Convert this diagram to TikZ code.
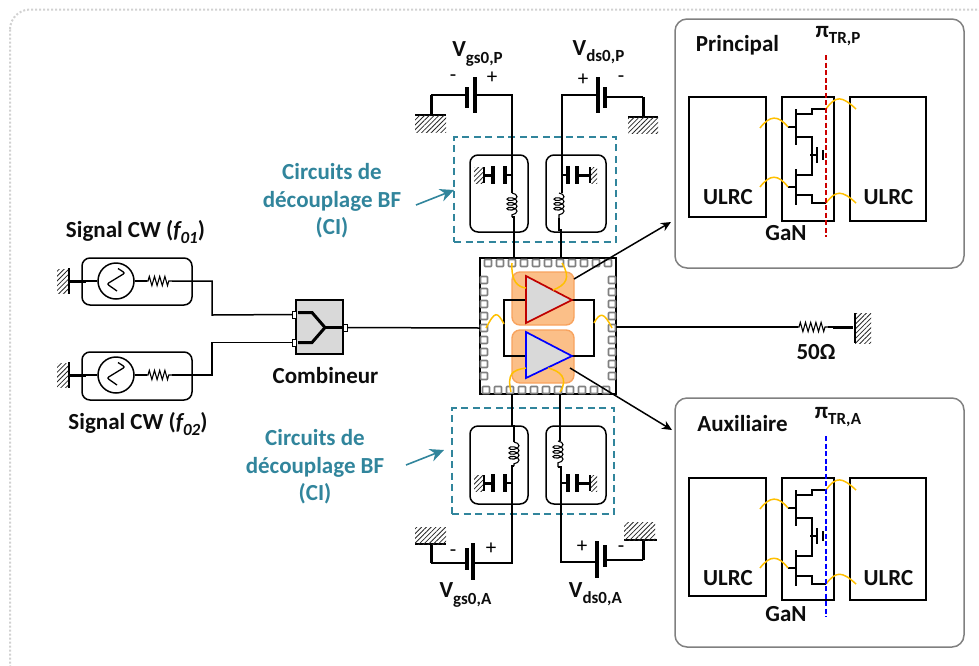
\documentclass[tikz,border=0pt]{standalone}
\usepackage{fontspec}
\setmainfont{Carlito}
\usetikzlibrary{arrows.meta,patterns.meta,decorations.pathmorphing}
\definecolor{teal1}{HTML}{31859C}
\definecolor{yel}{HTML}{FFC000}
\definecolor{orf}{HTML}{FBBF88}
\definecolor{ord}{HTML}{F8A35E}
\definecolor{chipg}{HTML}{D9D9D9}
\definecolor{padg}{HTML}{808080}
\tikzset{
 wire/.style={line width=1.5pt,line join=miter},
 thin wire/.style={line width=1.1pt},
 thick wire/.style={line width=3pt},
 plate/.style={line width=3.2pt},
 bond/.style={yel,line width=1.5pt},
 hatchfill/.style={pattern={Lines[angle=45,distance=3.4pt,line width=0.8pt]},pattern color=black!85},
 rbox/.style={draw=black,line width=1.5pt,rounded corners=8pt},
 panel/.style={draw=padg,line width=1.5pt,rounded corners=12pt,fill=white},
 sq/.style={draw=black,line width=1.6pt},
 pad/.style={draw=padg,line width=1.6pt,fill=white,rounded corners=0.8pt,minimum size=7pt,inner sep=0pt},
 tl/.style={font=\bfseries\fontsize{23}{25}\selectfont,inner sep=0pt,align=center,text=black!95},
 tt/.style={font=\bfseries\fontsize{23}{27.5}\selectfont,inner sep=0pt,align=center,text=teal1},
 sgn/.style={font=\fontsize{21}{21}\selectfont,inner sep=0pt},
 res/.style={decorate,decoration={zigzag,segment length=5.2pt,amplitude=4.6pt,pre length=1pt,post length=1pt},line width=1.1pt},
 coilv/.style={decorate,decoration={coil,aspect=0.5,segment length=4.8pt,amplitude=5pt},line width=1.1pt},
 tealarrow/.style={teal1,line width=1.6pt,-{Stealth[length=14pt,width=13pt]}},
 blackarrow/.style={black,line width=1.5pt,-{Stealth[length=10pt,width=9pt]}},
 dashteal/.style={draw=teal1,line width=1.4pt,dash pattern=on 7pt off 4.5pt},
}
\newcommand\bx[6]{\pgfmathsetmacro\cxx{(#3+#5)/2}\pgfmathsetmacro\cyy{(#4+#6)/2}\pgfmathsetmacro\wdd{#5-#3}\pgfmathsetmacro\htt{#6-#4}\node[#1,minimum width=\wdd pt,minimum height=\htt pt,inner sep=0pt,outer sep=0pt] (#2) at (\cxx,\cyy) {};}
\newcommand\sbs[1]{\raisebox{-0.28em}{\fontsize{17}{17}\selectfont #1}}
\newcommand\hatchr[4]{\fill[hatchfill] (#1,#2) rectangle (#3,#4);}
% source block: name, y box top, y box bottom, y wire
\newcommand\source[4]{
 \bx{rbox}{#1box}{82}{#2}{192}{#3}
 \node[draw,circle,line width=1.5pt,minimum size=36pt,inner sep=0pt,fill=white] (#1osc) at (116,#4) {};
 \coordinate (#1g) at (70,#4);
 \coordinate (#1gm) at (86,#4);
 \coordinate (#1r1) at (147,#4);
 \coordinate (#1r2) at (172,#4);
 \hatchr{57}{#4-12}{69}{#4+12}
 \draw[line width=1.8pt] (69,#4-13) -- (69,#4+13);
 \draw[thick wire] (#1g) -- (#1gm);
 \draw[thin wire] (#1gm) -- (#1osc);
 \draw[thin wire] (#1osc) -- (#1r1);
 \draw[res] (#1r1) -- (#1r2);
 \draw[line width=1.3pt,rounded corners=2pt] (116+2,#4-12.5) -- (116+9,#4-8) -- (116-9,#4+3) -- (116+1,#4+10);
}
% decoupling capacitor, left hatch
\newcommand\capl[2]{
 \hatchr{474}{#2-8}{484}{#2+8}
 \coordinate (#1a) at (484,#2); \coordinate (#1b) at (493,#2);
 \coordinate (#1c) at (505,#2); \coordinate (#1d) at (513,#2);
 \draw[thin wire] (484,#2-8) -- (484,#2+8);
 \draw[thick wire] (#1a) -- (#1b);
 \draw[plate] (493,#2-9) -- (493,#2+9);
 \draw[plate] (505,#2-9) -- (505,#2+9);
 \draw[wire] (#1c) -- (#1d);
}
\newcommand\capr[2]{
 \hatchr{589}{#2-8}{597}{#2+8}
 \coordinate (#1a) at (562,#2); \coordinate (#1b) at (568,#2);
 \coordinate (#1c) at (577,#2); \coordinate (#1d) at (590,#2);
 \draw[plate] (568,#2-9) -- (568,#2+9);
 \draw[plate] (577,#2-9) -- (577,#2+9);
 \draw[wire] (#1a) -- (#1b);
 \draw[thick wire] (#1c) -- (#1d);
 \draw[line width=1.2pt] (590,#2-8) -- (590,#2+8);
}
% measurement panel
\newcommand\ganpanel[8]{% prefix, box top, box bottom, left top, left bottom, dash top, dash bottom, colour
 \begin{scope}[name prefix=#1-]
 \bx{panel}{frame}{675}{#2}{964}{#3}
 \bx{sq}{ul}{689}{#4}{766}{#5}
 \bx{sq}{ur}{850}{#4+2}{926}{#5+2}
 \bx{sq}{gan}{782}{#4+2}{834}{#5+2}
 \begin{scope}[shift={(0,#4-97)},line width=1.3pt]
  \coordinate (g1) at (788,127); \coordinate (c1) at (796,127);
  \coordinate (d1) at (796,114); \coordinate (d2) at (812,114);
  \coordinate (d3) at (812,109); \coordinate (dp) at (826,109);
  \coordinate (s1) at (796,137); \coordinate (s2) at (812,137);
  \coordinate (s3) at (812,175); \coordinate (s4) at (796,175);
  \coordinate (g2) at (788,187); \coordinate (c2) at (796,187);
  \coordinate (s5) at (796,195); \coordinate (s6) at (812,195);
  \coordinate (s7) at (812,203); \coordinate (sp) at (826,203);
  \coordinate (gnd1) at (810,155); \coordinate (gnd2) at (817,155);
  \draw (796,109) -- (796,145);
  \draw (796,169) -- (796,205);
  \draw (g1) -- (c1);
  \draw (d1) -- (d2) -- (d3) -- (dp);
  \draw (s1) -- (s2) -- (s3) -- (s4);
  \draw (g2) -- (c2);
  \draw (s5) -- (s6) -- (s7) -- (sp);
  \draw (gnd1) -- (gnd2);
  \draw (817,147) -- (817,163);
  \draw (823,150) -- (823,160);
  \draw[bond] (760,128) .. controls (770,115) and (778,115) .. (g1);
  \draw[bond] (760,187) .. controls (770,174) and (778,174) .. (g2);
  \draw[bond] (dp) .. controls (836,95) and (842,96) .. (856,109);
  \draw[bond] (sp) .. controls (836,190) and (842,190) .. (856,203);
 \end{scope}
 \coordinate (dt) at (826,#6); \coordinate (db) at (826,#7);
 \draw[#8,line width=1.6pt,dash pattern=on 5pt off 2.5pt] (dt) -- (db);
 \end{scope}
}
\begin{document}
\begin{tikzpicture}[x=1pt,y=-1pt]
\useasboundingbox (0,0) rectangle (979,665);
\draw[black!18,line width=2pt,dash pattern=on 2pt off 2pt,rounded corners=20pt] (10,9.5) rectangle (995,685);

% ---------- sources
\source{sa}{258}{305}{281}
\source{sb}{352}{400}{375}
\node[tl,anchor=center] (labsa) at (135.5,232) {Signal CW (\textit{f\sbs{01}})};
\node[tl,anchor=center] (labsb) at (138,424) {Signal CW (\textit{f\sbs{02}})};

% ---------- combiner
\bx{draw=black,line width=1.4pt,fill=chipg}{comb}{296}{300}{343}{354}
\coordinate (ci1) at (292,315); \coordinate (ci2) at (292,342.5); \coordinate (co) at (347,327.5);
\coordinate (cm) at (325,327.5);
\draw[line width=3pt,line join=miter] (298,312.5) -- (312,312.5) -- (cm) -- (312,342.5) -- (298,342.5);
\draw[line width=3pt] (cm) -- (342,327.5);
\bx{draw=black,line width=0.8pt,fill=white}{pi1}{292.5}{311}{296.5}{318}
\bx{draw=black,line width=0.8pt,fill=white}{pi2}{292.5}{339}{296.5}{346}
\bx{draw=black,line width=0.8pt,fill=white}{po}{343}{324}{347}{331}
\node[tl] (labcomb) at (325.5,376) {Combineur};
\coordinate (j1) at (212,281); \coordinate (j1b) at (212,315);
\coordinate (j2) at (212,375); \coordinate (j2b) at (212,342.5);
\draw[wire] (sar2) -- (j1) -- (j1b) -- (pi1.west);
\draw[wire] (sbr2) -- (j2) -- (j2b) -- (pi2.west);

% ---------- decoupling blocks
\bx{dashteal}{dctop}{454}{137}{616}{242}
\bx{dashteal}{dcbot}{452}{408}{614}{514}
\bx{rbox}{c1}{470}{155}{528}{232}
\bx{rbox}{c2}{546}{155}{606}{232}
\bx{rbox}{c3}{470}{426}{528}{504}
\bx{rbox}{c4}{546}{426}{606}{504}
\node[tt] (labtop) at (332,201) {Circuits de\\découplage BF\\(CI)};
\node[tt] (labbot) at (315,467) {Circuits de\\découplage BF\\(CI)};
\coordinate (att) at (416,205); \coordinate (atb) at (406,465);
\coordinate (ath) at (454,190); \coordinate (abh) at (444,450);
\draw[tealarrow] (att) -- (ath);
\draw[tealarrow] (atb) -- (abh);

% ---------- chip
\bx{sq,line width=1.8pt}{chip}{480}{258}{616}{394}
\foreach \i in {488,500,...,608} {\node[pad] at (\i,263) {};}
\foreach \i in {486,498,...,606} {\node[pad] at (\i,390) {};}
\foreach \i in {280,292,...,376} {\node[pad] at (484,\i) {}; \node[pad] at (612,\i) {};}
\bx{draw=ord,line width=1.4pt,fill=orf,rounded corners=8pt}{ampa}{512}{272}{574}{325}
\bx{draw=ord,line width=1.4pt,fill=orf,rounded corners=8pt}{ampb}{512}{330}{574}{383}
\coordinate (t1a) at (526,276); \coordinate (t1b) at (526,323); \coordinate (t1c) at (572,300);
\coordinate (t2a) at (526,332); \coordinate (t2b) at (526,378); \coordinate (t2c) at (572,356);
\coordinate (t1i) at (526,300); \coordinate (t2i) at (526,356);
\coordinate (la) at (504,300); \coordinate (lb) at (504,356);
\coordinate (ra) at (594,300); \coordinate (rb) at (594,356);
\draw[wire] (t1i) -- (la) -- (lb) -- (t2i);
\draw[wire] (t1c) -- (ra) -- (rb) -- (t2c);
\draw[draw=red!75!black,line width=1.7pt,fill=chipg] (t1a) -- (t1b) -- (t1c) -- cycle;
\draw[draw=blue,line width=1.7pt,fill=chipg] (t2a) -- (t2b) -- (t2c) -- cycle;
\coordinate (bl1) at (486,328); \coordinate (bl2) at (504,324);
\coordinate (br1) at (594,323); \coordinate (br2) at (612,328);
\draw[bond] (bl1) .. controls (495,311) and (497,311) .. (bl2);
\draw[bond] (br1) .. controls (600,312) and (604,312) .. (br2);
\draw[bond] (512,263) .. controls (511,282) and (518,287) .. (526,288);
\draw[bond] (562,263) .. controls (571,278) and (566,285) .. (553,290);
\draw[bond] (511,392) .. controls (507,374) and (512,370) .. (526,368);
\draw[bond] (560,392) .. controls (569,378) and (560,371) .. (548,368);

% ---------- main line
\coordinate (chipin) at (480,328); \coordinate (chipout) at (616,327);
\draw[wire] (po.east) -- (chipin);
\coordinate (r50a) at (798,327); \coordinate (r50b) at (828,327);
\coordinate (r50c) at (833,327); \coordinate (r50d) at (853,327);
\draw[wire] (chipout) -- (r50a);
\draw[res] (r50a) -- (r50b);
\draw[thick wire] (r50c) -- (r50d);
\draw[wire] (r50b) -- (r50c);
\hatchr{855}{313}{871}{343}
\draw[line width=2.2pt] (855,313) -- (855,343);
\node[tl] (lab50) at (816,352) {50Ω};

% ---------- top left bias
\coordinate (b1g) at (431,95); \coordinate (b1gh) at (431,115);
\coordinate (b1a) at (467,95); \coordinate (b1b) at (475,95); \coordinate (b1c) at (512,95);
\coordinate (l1t) at (512,193); \coordinate (l1b) at (512,217); \coordinate (l1e) at (514,217); \coordinate (l1o) at (514,258);
\draw[line width=1.2pt] (415,115) -- (446,115);
\hatchr{415}{115}{446}{132}
\draw[thick wire] (b1g) -- (b1gh);
\draw[wire] (b1g) -- (b1a);
\draw[plate] (467,87) -- (467,108);
\draw[plate] (475,77) -- (475,113);
\draw[wire] (b1b) -- (b1c) -- (l1t);
\draw[coilv] (l1t) -- (l1b);
\draw[wire] (l1b) -- (l1e) -- (l1o);
\capl{k1}{175}

% ---------- top right bias
\coordinate (b2a) at (562,95); \coordinate (b2b) at (598,95); \coordinate (b2c) at (605,97);
\coordinate (b2d) at (643,97); \coordinate (b2e) at (643,117);
\coordinate (l2t) at (562,193); \coordinate (l2tt) at (559,193); \coordinate (l2b) at (559,218); \coordinate (l2e) at (561,230); \coordinate (l2o) at (561,258);
\draw[line width=1.2pt] (628,117) -- (658,117);
\hatchr{628}{117}{658}{133}
\draw[wire] (b2b) -- (b2a) -- (l2t);
\draw[plate] (598,77) -- (598,113);
\draw[plate] (605,87) -- (605,108);
\draw[wire] (b2c) -- (b2d);
\draw[thick wire] (b2d) -- (b2e);
\draw[coilv] (l2tt) -- (l2b);
\draw[wire] (l2b) -- (559,230) -- (l2e) -- (l2o);
\capr{k2}{175}

% ---------- bottom left bias
\coordinate (b3o) at (512,394); \coordinate (b3t) at (514,426); \coordinate (l3t) at (514,442); \coordinate (l3b) at (514,466);
\coordinate (b3c) at (512,466); \coordinate (b3d) at (512,563); \coordinate (b3e) at (473,563);
\coordinate (b3f) at (467,563); \coordinate (b3g) at (431,563); \coordinate (b3h) at (431,544);
\draw[wire] (b3o) -- (512,426) -- (b3t) -- (l3t);
\draw[coilv] (l3t) -- (l3b);
\draw[wire] (l3b) -- (b3c) -- (b3d) -- (b3e);
\draw[plate] (473,543) -- (473,580);
\draw[plate] (467,548) -- (467,570);
\draw[wire] (b3f) -- (b3g);
\draw[thick wire] (b3g) -- (b3h);
\draw[line width=1.2pt] (415,544) -- (446,544);
\hatchr{415}{527}{446}{544}
\capl{k3}{483}

% ---------- bottom right bias
\coordinate (b4o) at (560,394); \coordinate (l4t) at (558,441); \coordinate (l4b) at (558,467);
\coordinate (b4c) at (561,467); \coordinate (b4d) at (561,562); \coordinate (b4e) at (597,562);
\coordinate (b4f) at (605,560); \coordinate (b4g) at (643,560); \coordinate (b4h) at (643,540);
\draw[wire] (b4o) -- (560,441);
\draw[coilv] (l4t) -- (l4b);
\draw[wire] (l4b) -- (b4c) -- (b4d) -- (b4e);
\draw[plate] (597,541) -- (597,578);
\draw[plate] (605,545) -- (605,567);
\draw[wire] (b4f) -- (b4g);
\draw[thick wire] (b4g) -- (b4h);
\draw[line width=1.2pt] (624,540) -- (657,540);
\hatchr{624}{522}{655}{540}
\capr{k4}{483}

% ---------- bias labels
\node[tl] (vgp) at (477.5,54) {V\sbs{gs0,P}};
\node[tl] (vdp) at (598.5,52) {V\sbs{ds0,P}};
\node[tl] (vga) at (465.5,595) {V\sbs{gs0,A}};
\node[tl] (vda) at (595.5,594) {V\sbs{ds0,A}};
\node[sgn] (s1) at (453,78) {-}; \node[sgn] (s2) at (492,78) {+};
\node[sgn] (s3) at (583,80) {+}; \node[sgn] (s4) at (621,79) {-};
\node[sgn] (s5) at (453,553) {-}; \node[sgn] (s6) at (491,549) {+};
\node[sgn] (s7) at (582,547) {+}; \node[sgn] (s8) at (621,549) {-};

% ---------- panels
\ganpanel{pp}{19}{268}{97}{217}{55}{237}{red!80!black}
\ganpanel{aa}{398}{647}{478}{596}{436}{617}{blue}
\node[tl] (lprin) at (737.5,45) {Principal};
\node[tl] (laux) at (742.5,424) {Auxiliaire};
\node[tl] (pip) at (838,36) {π\sbs{TR,P}};
\node[tl] (pia) at (838,417) {π\sbs{TR,A}};
\node[tl] (u1) at (728,197) {ULRC};
\node[tl] (u2) at (888.5,197) {ULRC};
\node[tl] (u3) at (728,578) {ULRC};
\node[tl] (u4) at (888.5,578) {ULRC};
\node[tl] (g1t) at (786,233) {GaN};
\node[tl] (g2t) at (786,614) {GaN};

% ---------- arrows to panels
\coordinate (aa1) at (574,279); \coordinate (aa2) at (570,368);
\draw[blackarrow] (aa1) -- (671,222);
\draw[blackarrow] (aa2) -- (672,430);
\end{tikzpicture}
\end{document}
